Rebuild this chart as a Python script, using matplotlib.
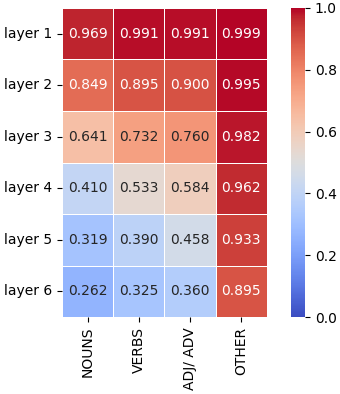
import matplotlib
matplotlib.use('Agg')
import matplotlib.pyplot as plt
import numpy as np
import seaborn as sns

# Data
layers = ['layer 1', 'layer 2', 'layer 3', 'layer 4', 'layer 5', 'layer 6']
categories = ['NOUNS', 'VERBS', 'ADJ/ ADV', 'OTHER']
nouns = [0.969, 0.849, 0.641, 0.410, 0.319, 0.262]
verbs = [0.991, 0.895, 0.732, 0.533, 0.390, 0.325]
adj_adv = [0.991, 0.900, 0.760, 0.584, 0.458, 0.360]
other = [0.999, 0.995, 0.982, 0.962, 0.933, 0.895]

vals = np.array([nouns, verbs, adj_adv, other]).T

fig = plt.figure(figsize=(3.4, 3.94), dpi=100)
ax = fig.add_axes([0.182, 0.195, 0.603, 0.785])
cax = fig.add_axes([0.856, 0.195, 0.041, 0.785])

sns.heatmap(vals, ax=ax, cbar_ax=cax, cmap='coolwarm', vmin=0, vmax=1,
            annot=True, fmt='.3f', linewidths=0.5, linecolor='white',
            xticklabels=categories, yticklabels=layers,
            annot_kws={'fontsize': 10})

ax.tick_params(axis='both', labelsize=10)
plt.setp(ax.get_xticklabels(), rotation=90)
plt.setp(ax.get_yticklabels(), rotation=0)
cax.tick_params(labelsize=10)

fig.savefig('out.png', dpi=100)
